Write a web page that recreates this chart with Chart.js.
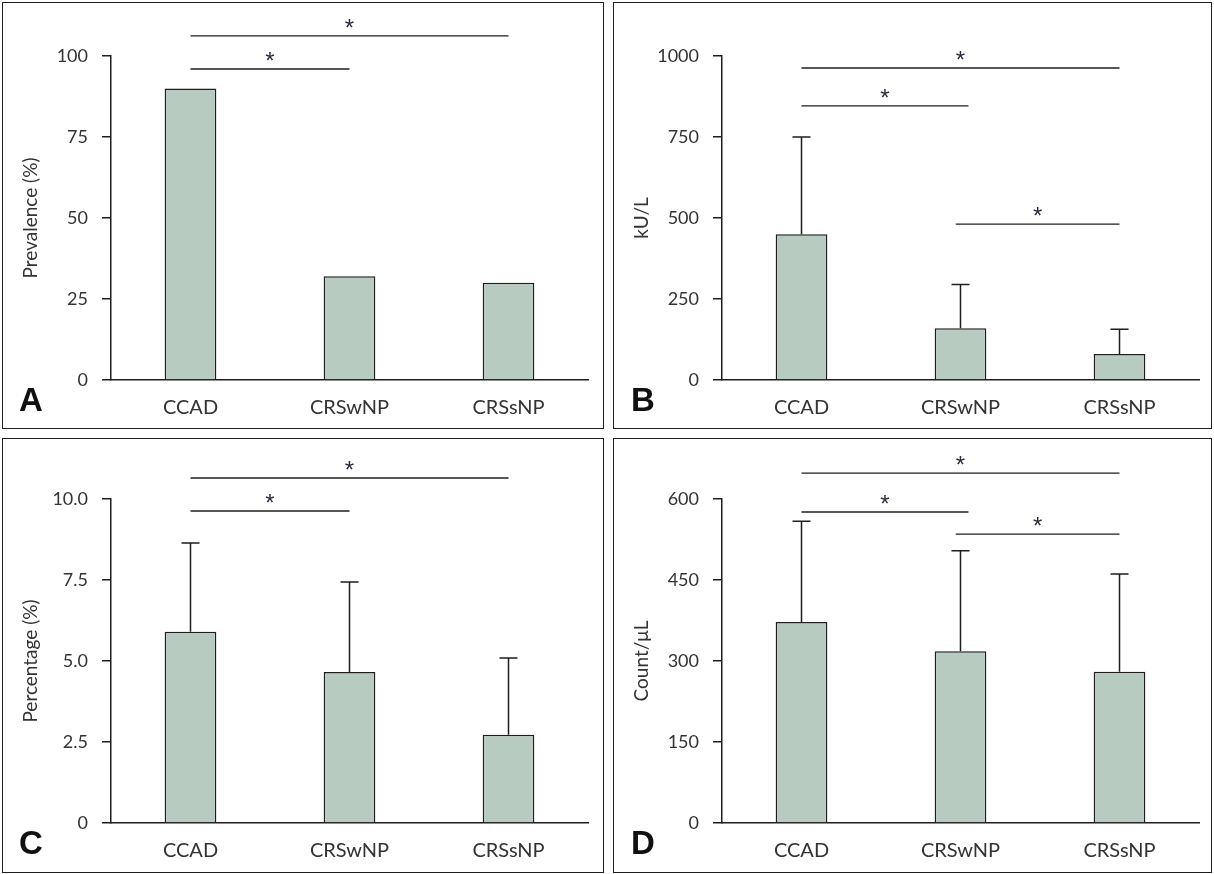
<!DOCTYPE html>
<html>
<head>
<meta charset="utf-8">
<script src="https://cdn.jsdelivr.net/npm/chart.js@4.4.0/dist/chart.umd.min.js"></script>
<style>
  body { margin: 0; background: #fff; }
  #page { position: relative; width: 1214px; height: 874px; overflow: hidden; }
  .panel { position: absolute; border: 1px solid #1e1e1e; box-sizing: border-box; }
  .panel canvas { position: absolute; left: 0; top: 0; }
  .letter { position: absolute; font: bold 33px "Liberation Sans", Arial, sans-serif; line-height: 33px; color: #111; }
</style>
</head>
<body>
<div id="page">
  <div class="panel" style="left:2px;top:2px;width:602px;height:427px;"><canvas id="chartA" width="600" height="425"></canvas></div>
  <div class="panel" style="left:613px;top:2px;width:599px;height:427px;"><canvas id="chartB" width="597" height="425"></canvas></div>
  <div class="panel" style="left:2px;top:438px;width:602px;height:435px;"><canvas id="chartC" width="600" height="433"></canvas></div>
  <div class="panel" style="left:613px;top:438px;width:599px;height:435px;"><canvas id="chartD" width="597" height="433"></canvas></div>
  <div class="letter" style="left:19px;top:383px;">A</div>
  <div class="letter" style="left:631px;top:383px;">B</div>
  <div class="letter" style="left:19px;top:826px;">C</div>
  <div class="letter" style="left:631px;top:826px;">D</div>
</div>
<script>
const groups = ['CCAD', 'CRSwNP', 'CRSsNP'];

// A: prevalence (%)
const prevalence = [90, 32, 30];
// B: kU/L, mean and SD
const ige = [450, 160, 80];
const igeSD = [300, 135, 77];
// C: percentage (%)
const eosPct = [5.9, 4.66, 2.72];
const eosPctSD = [2.74, 2.78, 2.37];
// D: count/uL
const eosCount = [372, 318, 280];
const eosCountSD = [187, 186, 181];

// significance brackets: [from group, to group, height in axis units]
const bracketsA = [[0, 1, 96], [0, 2, 106.2]];
const bracketsB = [[0, 2, 963], [0, 1.05, 846], [0.97, 2, 481]];
const bracketsC = [[0, 1, 9.63], [0, 2, 10.65]];
const bracketsD = [[0, 2, 648], [0, 1.05, 576], [0.97, 2, 535]];

const ink = '#1e1e1e';
const textColor = '#333';
const fontFamily = 'Lato, "DejaVu Sans", sans-serif';

const errorBars = {
    id: 'errorBars',
    afterDatasetsDraw(chart) {
        const ds = chart.data.datasets[0];
        if (!ds.errors) return;
        const y = chart.scales.y;
        const ctx = chart.ctx;
        ctx.save();
        ctx.strokeStyle = ink;
        ctx.lineWidth = 1.5;
        chart.getDatasetMeta(0).data.forEach((bar, i) => {
            const top = y.getPixelForValue(ds.data[i] + ds.errors[i]);
            ctx.beginPath();
            ctx.moveTo(bar.x, bar.y);
            ctx.lineTo(bar.x, top);
            ctx.moveTo(bar.x - 9, top);
            ctx.lineTo(bar.x + 9, top);
            ctx.stroke();
        });
        ctx.restore();
    }
};

const brackets = {
    id: 'brackets',
    afterDraw(chart, args, opts) {
        const x = chart.scales.x, y = chart.scales.y;
        const ctx = chart.ctx;
        ctx.save();
        ctx.strokeStyle = ink;
        ctx.lineWidth = 1.4;
        ctx.fillStyle = '#2a2a3a';
        ctx.font = '24px "Liberation Sans", Arial, sans-serif';
        ctx.textAlign = 'center';
        ctx.textBaseline = 'alphabetic';
        (opts.list || []).forEach(([a, b, h]) => {
            const x1 = x.getPixelForValue(a), x2 = x.getPixelForValue(b);
            const py = y.getPixelForValue(h);
            ctx.beginPath();
            ctx.moveTo(x1, py);
            ctx.lineTo(x2, py);
            ctx.stroke();
            ctx.fillText('*', (x1 + x2) / 2, py);
        });
        ctx.restore();
    }
};

function makePanel(id, values, errors, yMax, step, title, list, pad, fmt) {
    const ctx = document.getElementById(id).getContext('2d');
    return new Chart(ctx, {
        type: 'bar',
        data: {
            labels: groups,
            datasets: [{
                data: values,
                errors: errors,
                backgroundColor: '#b8cbc1',
                borderColor: ink,
                borderWidth: 1.5,
                barPercentage: 0.325,
                categoryPercentage: 1
            }]
        },
        options: {
            responsive: false,
            animation: false,
            events: [],
            layout: { padding: pad },
            plugins: {
                legend: { display: false },
                tooltip: { enabled: false },
                brackets: { list: list }
            },
            scales: {
                x: {
                    grid: { display: false },
                    border: { color: ink, width: 1.5 },
                    ticks: { padding: 8, color: textColor, font: { family: fontFamily, size: 20 } },
                    afterFit: s => { s.height = 40; }
                },
                y: {
                    min: 0,
                    max: yMax,
                    grid: { drawOnChartArea: false, tickLength: 9, color: ink, lineWidth: 1.5 },
                    border: { color: ink, width: 1.5 },
                    ticks: {
                        stepSize: step,
                        padding: 14,
                        color: textColor,
                        font: { family: fontFamily, size: 18 },
                        callback: fmt || (v => v)
                    },
                    title: {
                        display: true,
                        text: title,
                        color: textColor,
                        font: { family: fontFamily, size: 19 },
                        padding: { top: 11, bottom: 0 }
                    },
                    afterFit: s => { s.width = 103; }
                }
            }
        },
        plugins: [errorBars, brackets]
    });
}

makePanel('chartA', prevalence, null, 100, 25, 'Prevalence (%)', bracketsA,
    { left: 5, right: 15, top: 53, bottom: 8 });
makePanel('chartB', ige, igeSD, 1000, 250, 'kU/L', bracketsB,
    { left: 5, right: 12, top: 53, bottom: 8 });
makePanel('chartC', eosPct, eosPctSD, 10, 2.5, 'Percentage (%)', bracketsC,
    { left: 5, right: 15, top: 60, bottom: 9 }, v => v === 0 ? '0' : v.toFixed(1));
makePanel('chartD', eosCount, eosCountSD, 600, 150, 'Count/μL', bracketsD,
    { left: 5, right: 12, top: 60, bottom: 9 });
</script>
</body>
</html>
